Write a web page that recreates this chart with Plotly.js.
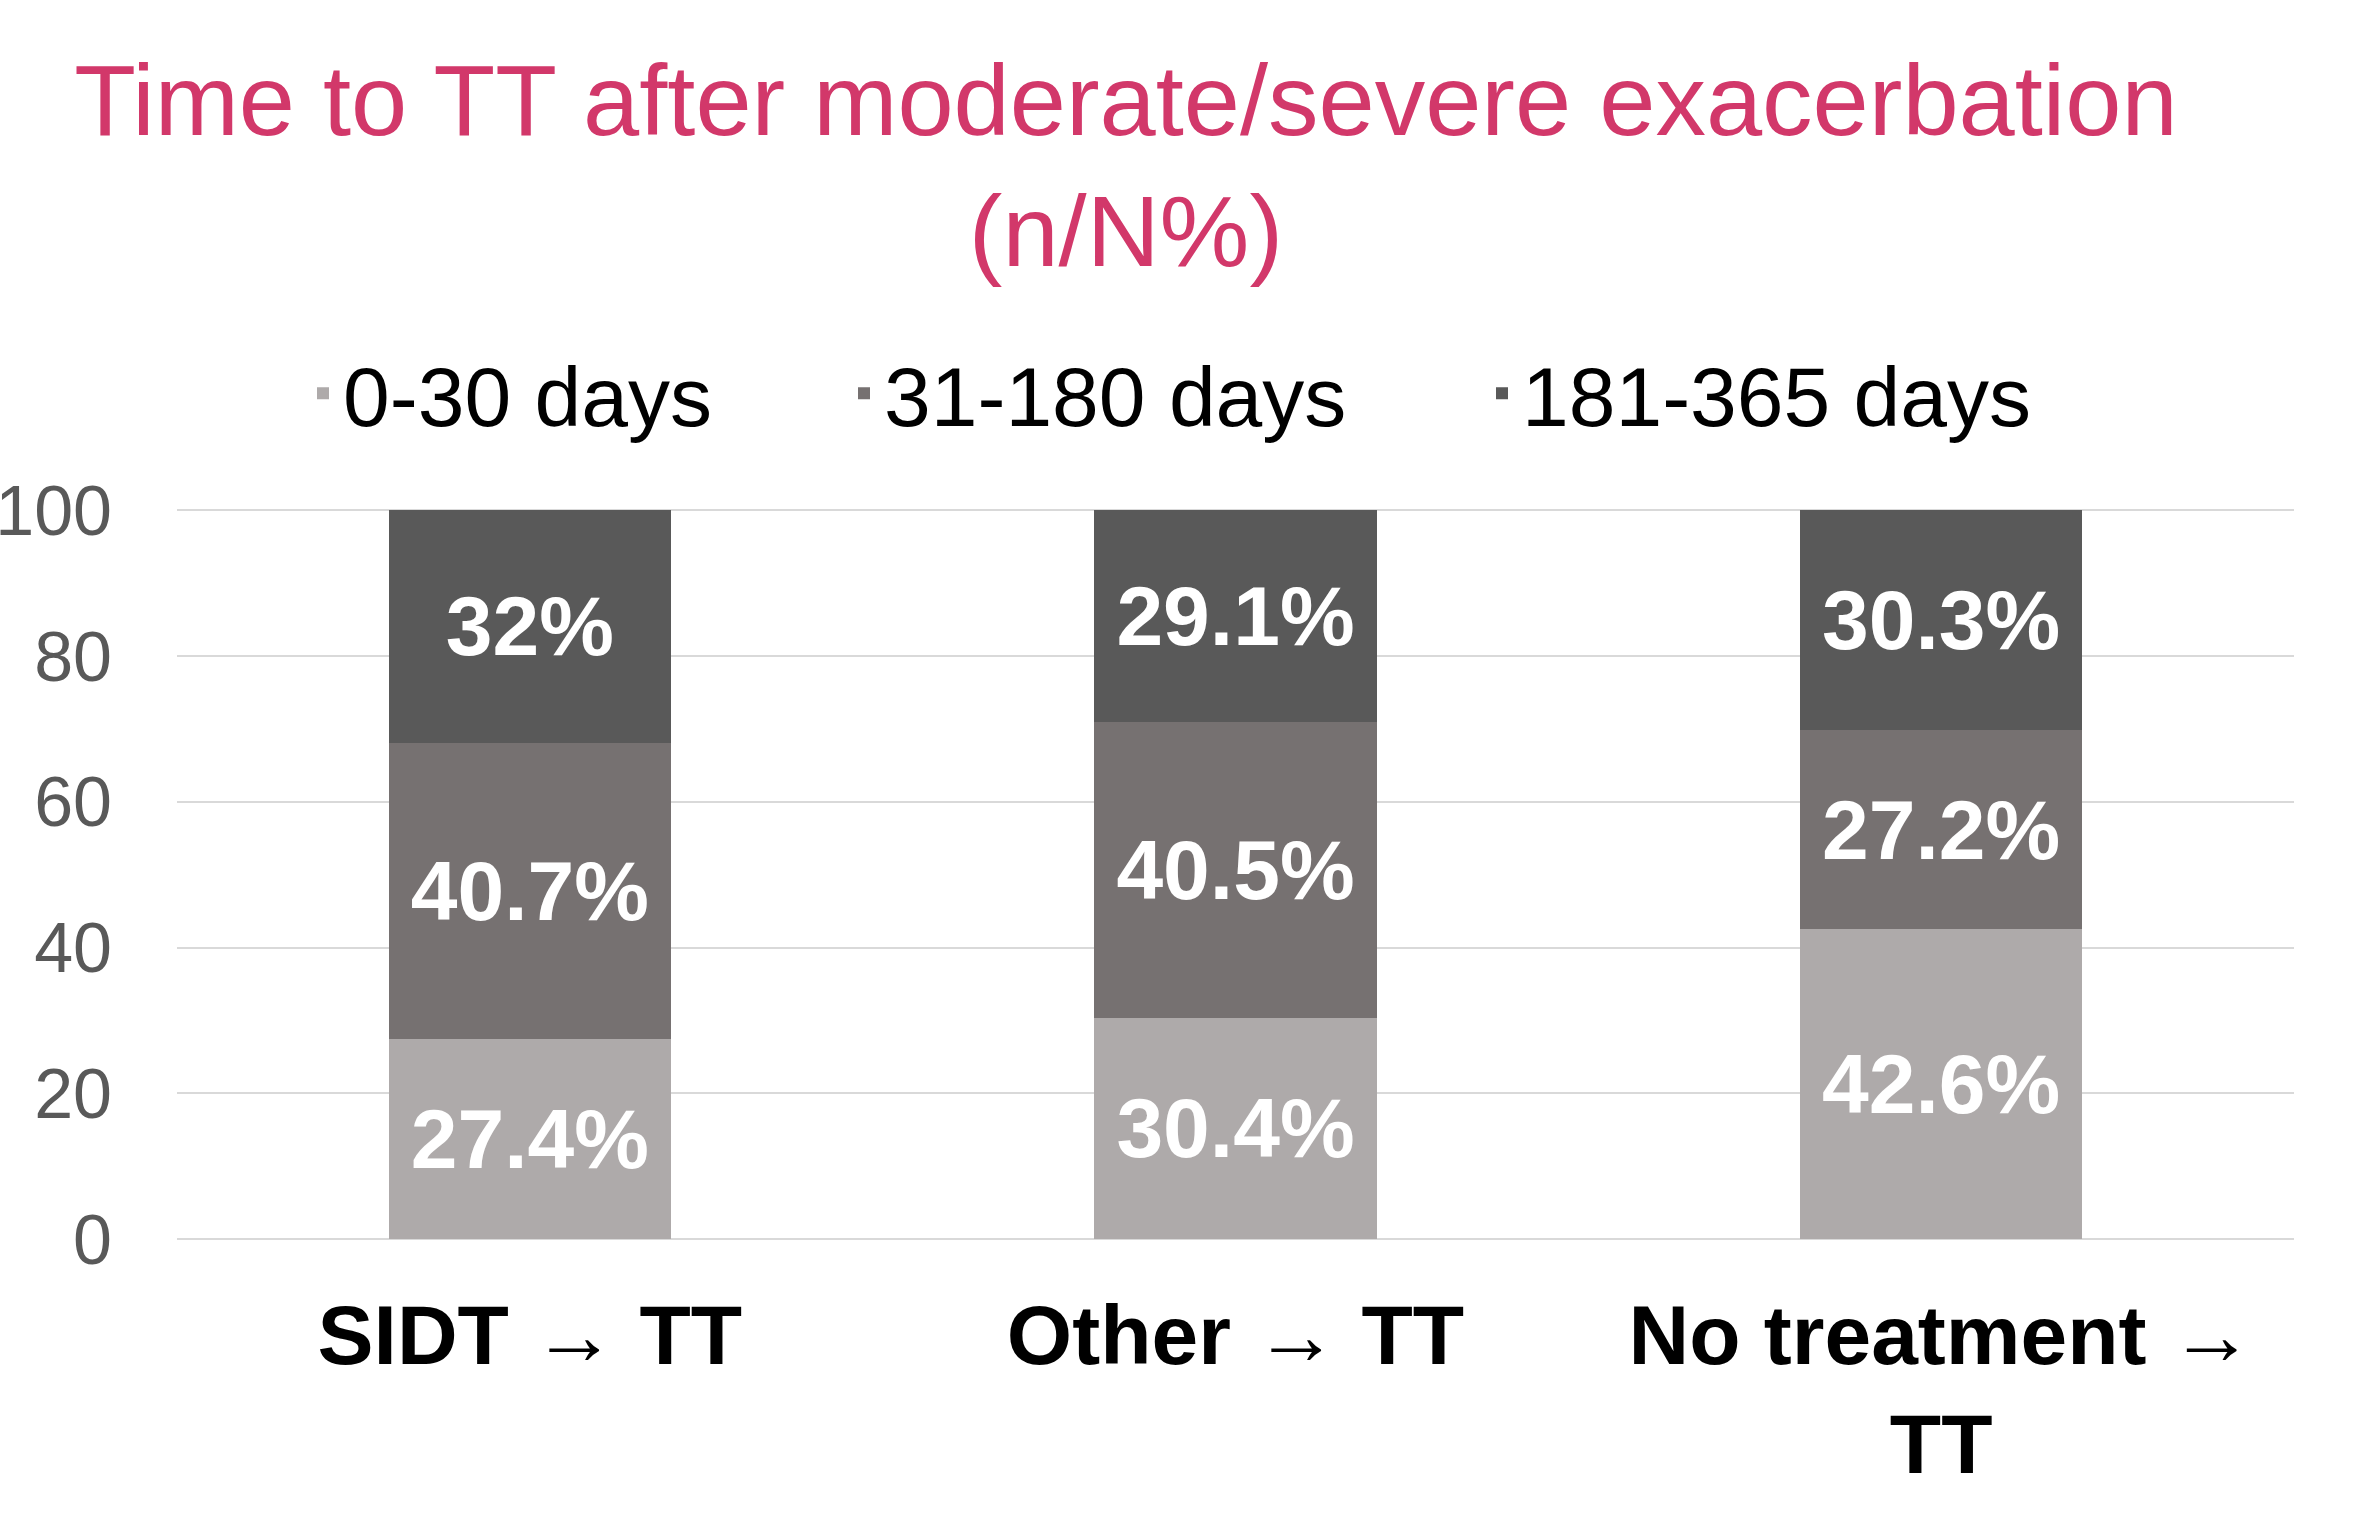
<!DOCTYPE html>
<html>
<head>
<meta charset="utf-8">
<script src="https://cdn.plot.ly/plotly-3.0.1.min.js"></script>
<style>html,body{margin:0;padding:0;background:#fff;}#chart{width:2354px;height:1531px;}</style>
</head>
<body>
<div id="chart"></div>
<script>
const categories = ["SIDT → TT", "Other → TT", "No treatment →<br>TT"];
const seriesNames = ["0-30 days", "31-180 days", "181-365 days"];
const days0to30 = [27.4, 30.4, 42.6];
const days31to180 = [40.7, 40.5, 27.2];
const days181to365 = [32, 29.1, 30.3];
const yTickValues = [0, 20, 40, 60, 80, 100];
const colors = ["#AEAAAA", "#767171", "#595959"];
const legendIds = ["legend", "legend2", "legend3"];

const seriesValues = [days0to30, days31to180, days181to365];
const traces = seriesValues.map((vals, i) => ({
  type: "bar",
  name: seriesNames[i],
  x: categories,
  y: vals,
  marker: { color: colors[i] },
  texttemplate: "%{y}%",
  textposition: "inside",
  insidetextanchor: "middle",
  textangle: 0,
  constraintext: "none",
  textfont: { family: "Liberation Sans, Arial, sans-serif", size: 84, color: "#FFFFFF", weight: "bold" },
  legend: legendIds[i],
  hoverinfo: "skip"
}));

const legendBase = {
  orientation: "h",
  xref: "paper", yref: "paper",
  y: 1.158, yanchor: "middle",
  xanchor: "left",
  font: { family: "Liberation Sans, Arial, sans-serif", size: 84, color: "#000000" },
  bgcolor: "rgba(0,0,0,0)",
  borderwidth: 0,
  itemclick: false, itemdoubleclick: false
};

const layout = {
  width: 2354, height: 1531,
  paper_bgcolor: "#FFFFFF", plot_bgcolor: "#FFFFFF",
  margin: { l: 177, r: 60, t: 509, b: 292 },
  barmode: "stack",
  bargap: 0.6,
  showlegend: true,
  title: {
    text: "Time to TT after moderate/severe exacerbation<br>(n/N%)",
    font: { family: "Liberation Sans, Arial, sans-serif", size: 101, color: "#D2386A" },
    xref: "container", x: 0.4783, xanchor: "center",
    yref: "container", y: 0.912, yanchor: "top"
  },
  legend: Object.assign({}, legendBase, { x: (303 - 177) / 2117 }),
  legend2: Object.assign({}, legendBase, { x: (844 - 177) / 2117 }),
  legend3: Object.assign({}, legendBase, { x: (1482 - 177) / 2117 }),
  xaxis: {
    type: "category",
    tickfont: { family: "Liberation Sans, Arial, sans-serif", size: 84, color: "#000000", weight: "bold" },
    showline: false, showgrid: false, zeroline: false, ticks: "",
    ticklabelstandoff: 40
  },
  yaxis: {
    range: [0, 100.2],
    tickvals: yTickValues,
    ticktext: yTickValues.map(String),
    tickfont: { family: "Liberation Sans, Arial, sans-serif", size: 70, color: "#595959" },
    showgrid: true, gridcolor: "#D9D9D9", gridwidth: 2,
    zeroline: true, zerolinecolor: "#D9D9D9", zerolinewidth: 2,
    showline: false, ticks: "",
    ticklabelstandoff: 64
  }
};

Plotly.newPlot("chart", traces, layout, { displayModeBar: false, staticPlot: true });
</script>
</body>
</html>
